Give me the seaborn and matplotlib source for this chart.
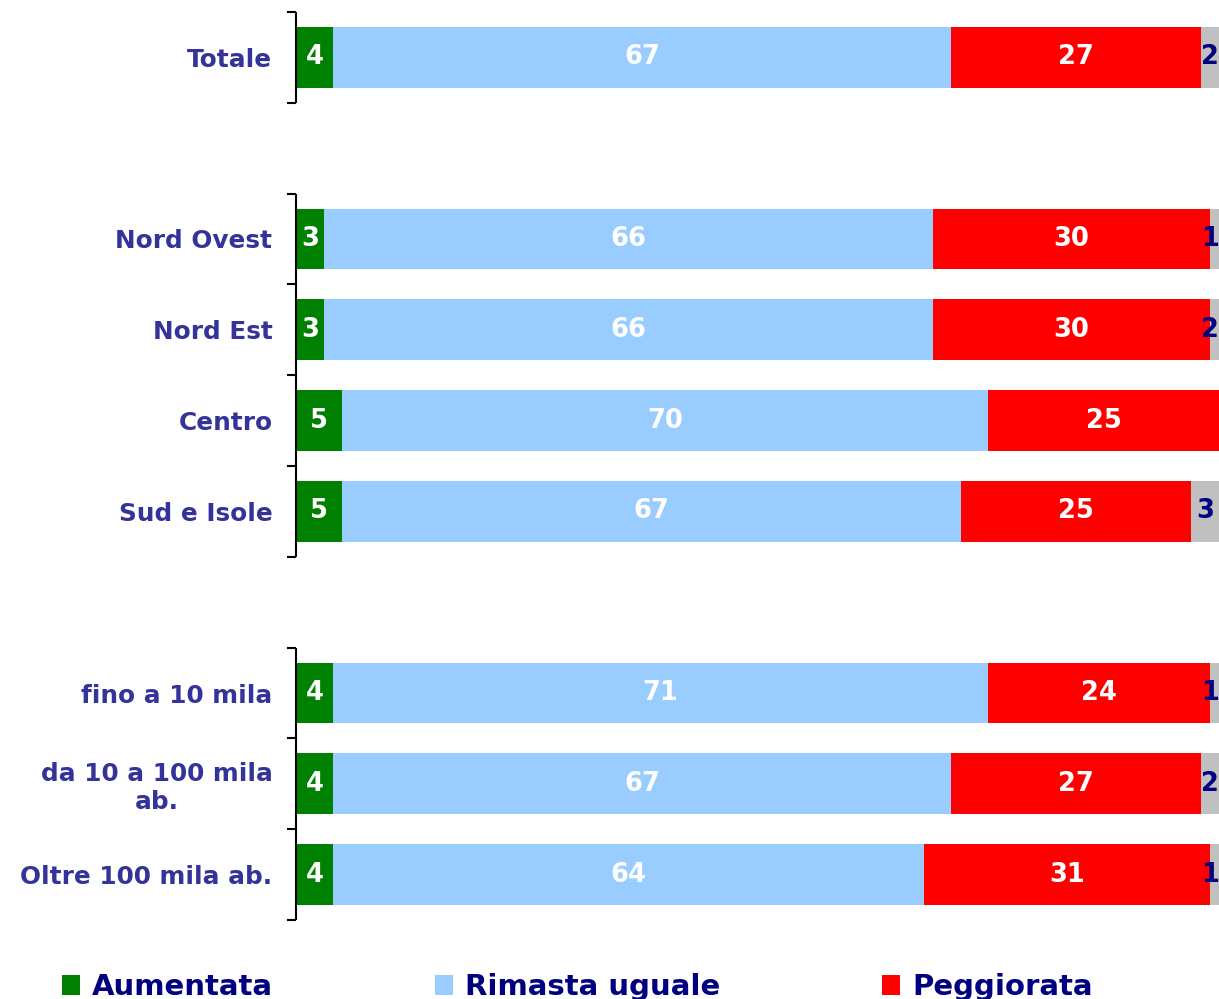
import numpy as np
import pandas as pd
import matplotlib
matplotlib.use("Agg")
import matplotlib.pyplot as plt
import matplotlib.transforms as mtransforms
import seaborn as sns

# ---------------- data ----------------
categories = ["Totale", "Nord Ovest", "Nord Est", "Centro", "Sud e Isole",
              "fino a 10 mila", "da 10 a 100 mila\nab.", "Oltre 100 mila ab."]
groups = [["Totale"],
          ["Nord Ovest", "Nord Est", "Centro", "Sud e Isole"],
          ["fino a 10 mila", "da 10 a 100 mila\nab.", "Oltre 100 mila ab."]]
aumentata = [4, 3, 3, 5, 5, 4, 4, 4]
rimasta = [67, 66, 66, 70, 67, 71, 67, 64]
peggiorata = [27, 30, 30, 25, 25, 24, 27, 31]
non_sa = [2, 1, 2, 0, 3, 1, 2, 1]
series_names = ["Aumentata", "Rimasta uguale", "Peggiorata", "Non sa"]
legend_names = ["Aumentata", "Rimasta uguale", "Peggiorata"]

colors = ["#008000", "#99CCFF", "#FF0000", "#C0C0C0"]
label_colors = ["white", "white", "white", "#000080"]

# ---------------- layout ----------------
sns.set_theme(style="white")
plt.rcParams["font.family"] = ["DejaVu Sans"]

W, H, DPI = 1219, 999, 100
fig = plt.figure(figsize=(W / DPI, H / DPI), dpi=DPI)
ax = fig.add_axes([296 / W, 1 - 920 / H, 1 - 296 / W, (920 - 12) / H])

# order with blank separators between groups
order = []
for gi, g in enumerate(groups):
    if gi > 0:
        order.append(" " * gi)
    order.extend(g)

vals = np.array([aumentata, rimasta, peggiorata, non_sa], dtype=float)
cums = np.cumsum(vals, axis=0)
df = pd.DataFrame({"cat": categories})
for i, name in enumerate(series_names):
    df[name] = cums[i]

# draw stacked bars (largest cumulative first)
bar_h = 0.67
for i in range(len(series_names) - 1, -1, -1):
    sns.barplot(data=df, x=series_names[i], y="cat", order=order, orient="h",
                color=colors[i], width=bar_h, saturation=1, ax=ax,
                label=series_names[i], linewidth=0)

XMAX = 100
ax.set_xlim(0, XMAX)
ax.set_ylim(len(order) - 0.5, -0.5)

# segment labels
pos = {c: order.index(c) for c in categories}
for i in range(len(series_names)):
    for j, c in enumerate(categories):
        v = vals[i, j]
        if v <= 0:
            continue
        start = cums[i, j] - v
        xc = start + v / 2
        ha = "center"
        if i == len(series_names) - 1 and xc > XMAX - 0.8:
            xc, ha = XMAX, "right"
        ax.text(xc, pos[c], f"{int(v)}", ha=ha, va="center",
                color=label_colors[i], fontsize=18.5, fontweight="bold",
                clip_on=False)

# axes styling
for s in ["top", "right", "bottom", "left"]:
    ax.spines[s].set_visible(False)
ax.set_xlabel("")
ax.set_ylabel("")
ax.set_xticks([])
ax.set_yticks(range(len(order)))
ax.set_yticklabels([o if o.strip() else "" for o in order],
                   fontsize=17.8, fontweight="bold", color="#333399",
                   multialignment="center")
ax.tick_params(axis="y", which="major", length=0, pad=17)
ax.set_yticks(np.arange(-0.5, len(order), 1.0), minor=True)
ax.tick_params(axis="y", which="minor", length=6.5, width=1.5,
               color="black", left=True)

# broken left spine: one segment per group
trans = mtransforms.blended_transform_factory(ax.transAxes, ax.transData)
for g in groups:
    lo = pos[g[0]] - 0.5
    hi = pos[g[-1]] + 0.5
    ax.plot([0, 0], [lo, hi], color="black", lw=1.5, transform=trans,
            clip_on=False, solid_capstyle="butt")

# legend (figure level, only the three main answers)
handles, labels = ax.get_legend_handles_labels()
if ax.get_legend() is not None:
    ax.get_legend().remove()
hmap = dict(zip(labels, handles))
leg = fig.legend([hmap[n] for n in legend_names], legend_names,
                 loc="lower left", bbox_to_anchor=(62 / W, -0.002),
                 ncol=3, frameon=False, borderpad=0, borderaxespad=0,
                 handlelength=0.62, handleheight=0.7, handletextpad=0.41,
                 columnspacing=5.55, prop={"size": 21, "weight": "bold"})
for t in leg.get_texts():
    t.set_color("#000080")

fig.savefig("out.png", dpi=DPI)
